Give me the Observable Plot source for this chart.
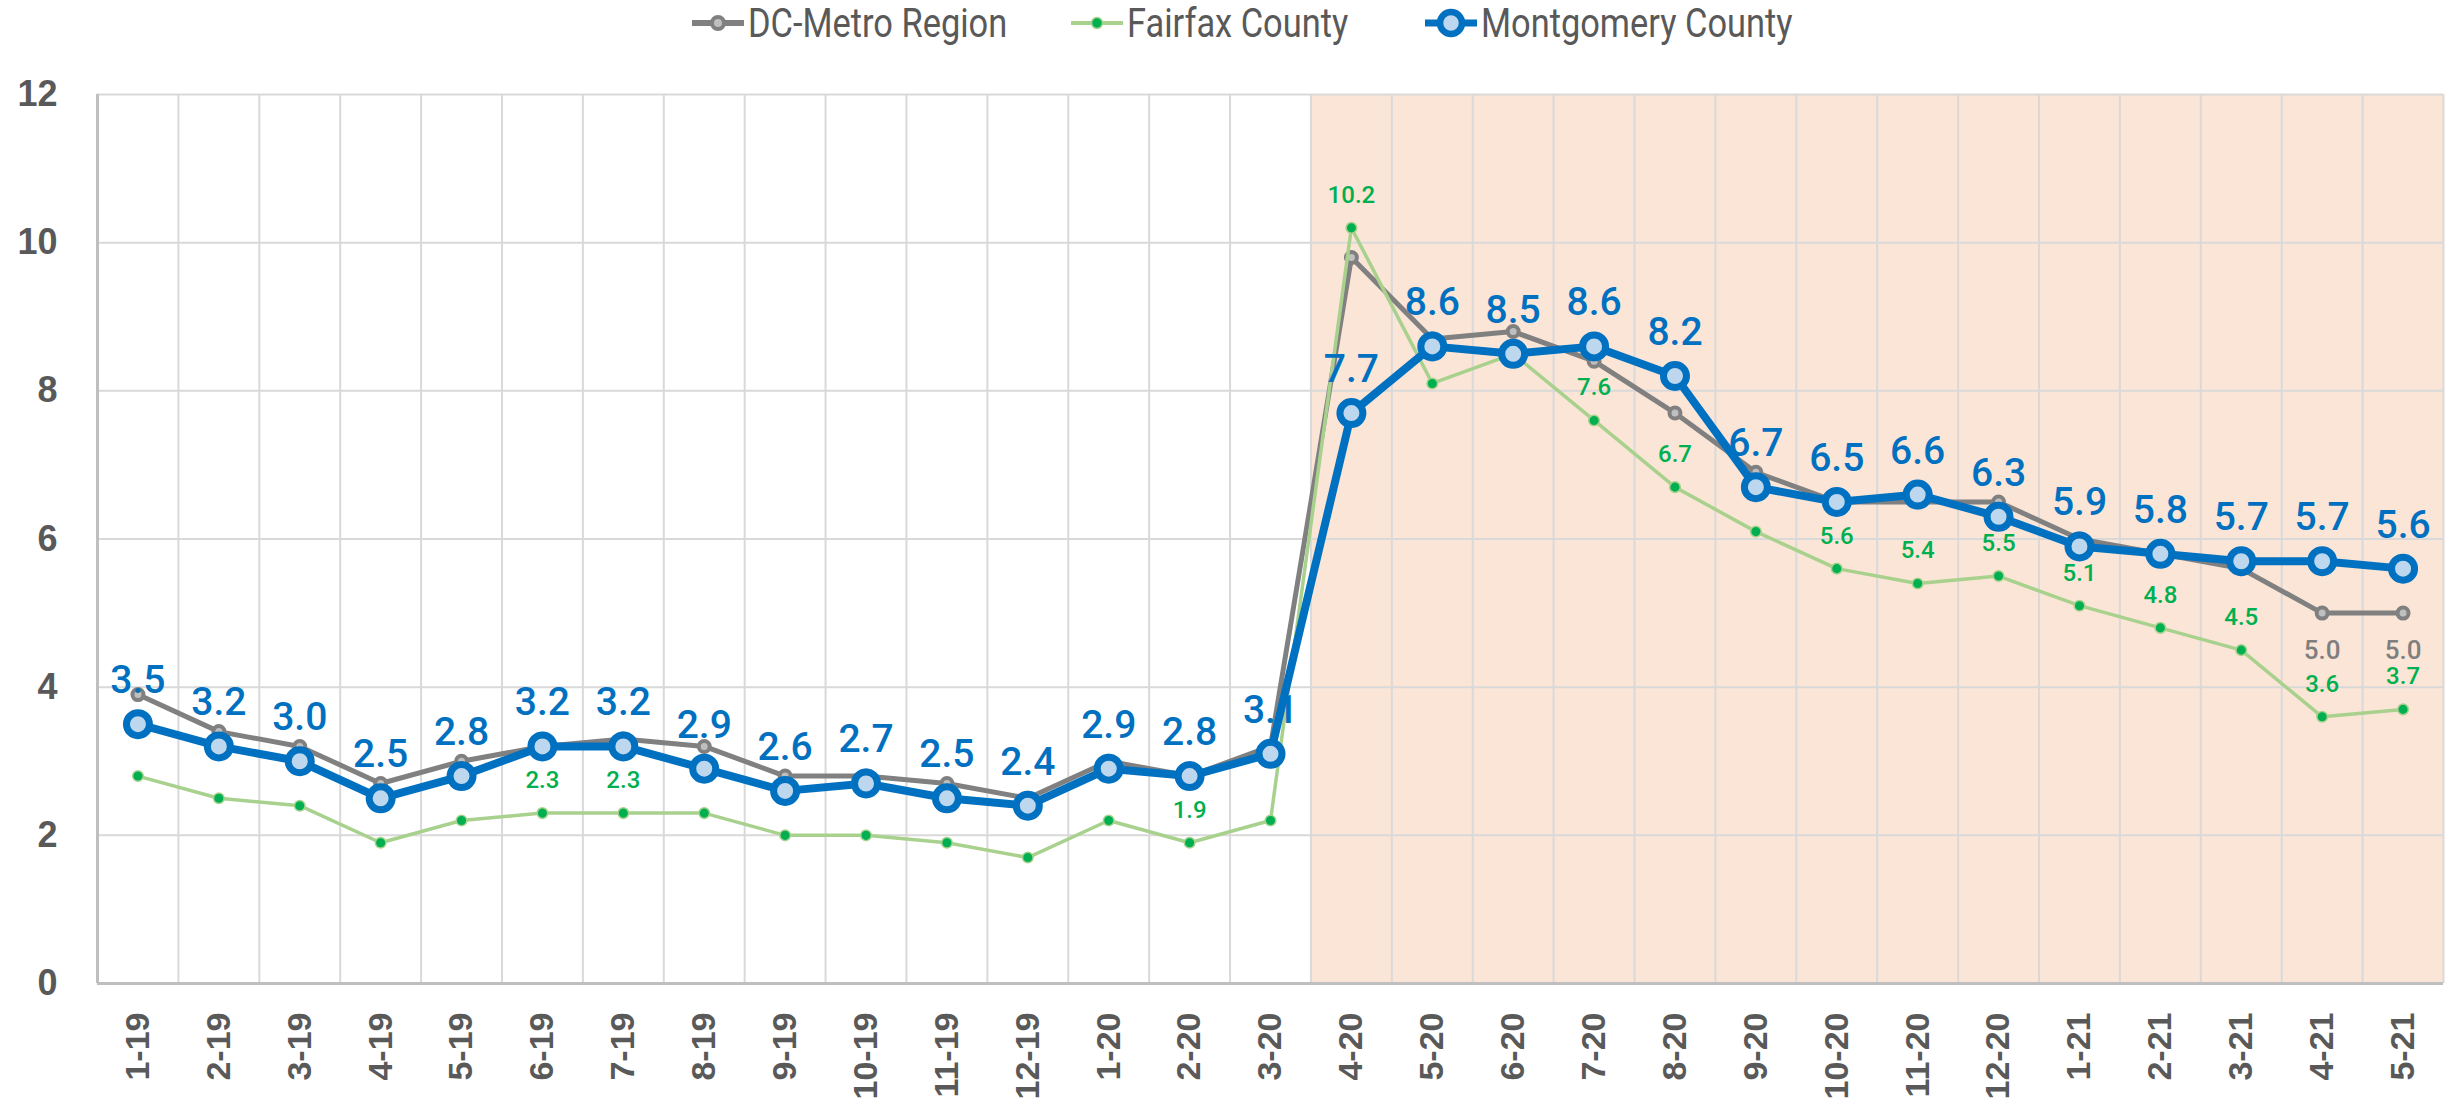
<!DOCTYPE html>
<html><head><meta charset="utf-8">
<script src="https://cdn.jsdelivr.net/npm/d3@7"></script>
<script src="https://cdn.jsdelivr.net/npm/@observablehq/plot@0.6"></script>
<style>
body{margin:0;background:#fff;width:2451px;height:1109px;overflow:hidden}
#legend{position:relative;width:2451px;height:46px}
.item{position:absolute;top:0;height:46px;display:flex;align-items:center}
.item span{font-family:Roboto,sans-serif;font-size:40px;color:#595959;margin-left:4px;white-space:nowrap;display:inline-block;transform:scaleX(0.86);transform-origin:left center}
#chart svg{display:block}
</style></head><body>
<div id="legend"></div>
<div id="chart"></div>
<script>
const categories = ["1-19","2-19","3-19","4-19","5-19","6-19","7-19","8-19","9-19","10-19","11-19","12-19",
  "1-20","2-20","3-20","4-20","5-20","6-20","7-20","8-20","9-20","10-20","11-20","12-20",
  "1-21","2-21","3-21","4-21","5-21"];
const dcMetro    = [3.9,3.4,3.2,2.7,3.0,3.2,3.3,3.2,2.8,2.8,2.7,2.5,3.0,2.8,3.2,9.8,8.7,8.8,8.4,7.7,6.9,6.5,6.5,6.5,6.0,5.8,5.6,5.0,5.0];
const fairfax    = [2.8,2.5,2.4,1.9,2.2,2.3,2.3,2.3,2.0,2.0,1.9,1.7,2.2,1.9,2.2,10.2,8.1,8.5,7.6,6.7,6.1,5.6,5.4,5.5,5.1,4.8,4.5,3.6,3.7];
const montgomery = [3.5,3.2,3.0,2.5,2.8,3.2,3.2,2.9,2.6,2.7,2.5,2.4,2.9,2.8,3.1,7.7,8.6,8.5,8.6,8.2,6.7,6.5,6.6,6.3,5.9,5.8,5.7,5.7,5.6];
const fairfaxLabeled = ["6-19","7-19","2-20","4-20","7-20","8-20","10-20","11-20","12-20","1-21","2-21","3-21","4-21","5-21"];
const dcMetroLabeled = ["4-21","5-21"];
const shadedFrom = "4-20";
const yTicks = [0,2,4,6,8,10,12];
const seriesNames = ["DC-Metro Region","Fairfax County","Montgomery County"];

const labelFont = 'Roboto, sans-serif';
const axisFont = '"Liberation Sans", Arial, sans-serif';
const n = categories.length;
const rows = categories.map((c,i)=>({i, c, dc: dcMetro[i], ff: fairfax[i], mc: montgomery[i]}));
const s = categories.indexOf(shadedFrom);
const yMax = d3.max(yTicks);

// Legend
const legendStyles = [
  {left: 692, line: "#808080", lw: 6, r: 6, fill: "#BFBFBF", stroke: "#808080", sw: 4},
  {left: 1071, line: "#A9D18E", lw: 4, r: 5.5, fill: "#00B050", stroke: "#A9D18E", sw: 1.5},
  {left: 1425, line: "#0070C0", lw: 7, r: 11, fill: "#BDD7EE", stroke: "#0070C0", sw: 6.5}
];
const legend = d3.select("#legend");
seriesNames.forEach((name, k) => {
  const st = legendStyles[k];
  const item = legend.append("div").attr("class","item").style("left", st.left + "px");
  const svg = item.append("svg").attr("width", 52).attr("height", 46);
  svg.append("line").attr("x1",1).attr("x2",51).attr("y1",23).attr("y2",23)
    .attr("stroke", st.line).attr("stroke-width", st.lw).attr("stroke-linecap","round");
  svg.append("circle").attr("cx",26).attr("cy",23).attr("r",st.r)
    .attr("fill", st.fill).attr("stroke", st.stroke).attr("stroke-width", st.sw);
  item.append("span").text(name);
});

const chart = Plot.plot({
  width: 2451, height: 1063,
  marginLeft: 97, marginRight: 8, marginTop: 48, marginBottom: 126,
  x: {type: "linear", domain: [-0.5, n - 0.5], axis: null},
  y: {domain: [0, yMax], axis: null},
  style: {background: "white", overflow: "visible"},
  marks: [
    Plot.rect([{x1: s - 0.5, x2: n - 0.5}], {x1: "x1", x2: "x2", y1: 0, y2: yMax, fill: "#FBE5D6"}),
    Plot.ruleY(yTicks.filter(t => t > 0), {stroke: "#D9D9D9", strokeWidth: 2}),
    Plot.ruleX(rows, {x: d => d.i + 0.5, y1: 0, y2: yMax, stroke: "#D9D9D9", strokeWidth: 2}),
    Plot.ruleY([0], {stroke: "#BFBFBF", strokeWidth: 3}),
    Plot.ruleX([-0.5], {y1: 0, y2: yMax, stroke: "#BFBFBF", strokeWidth: 3}),
    Plot.axisY(yTicks, {tickFormat: "d", tickSize: 0, tickPadding: 40, fontSize: 36, fontFamily: axisFont, fontWeight: "bold", fill: "#595959"}),
    Plot.axisX(rows.map(d => d.i), {tickFormat: i => categories[i], tickRotate: -90, tickSize: 0, tickPadding: 29,
      fontSize: 34, fontFamily: axisFont, fontWeight: "bold", fill: "#595959"}),
    // DC-Metro
    Plot.line(rows, {x: "i", y: "dc", stroke: "#808080", strokeWidth: 5}),
    Plot.dot(rows, {x: "i", y: "dc", r: 5.5, fill: "#BFBFBF", stroke: "#808080", strokeWidth: 4}),
    // Fairfax
    Plot.line(rows, {x: "i", y: "ff", stroke: "#A9D18E", strokeWidth: 3.5}),
    Plot.dot(rows, {x: "i", y: "ff", r: 5.3, fill: "#00B050", stroke: "#A9D18E", strokeWidth: 1.5}),
    // Montgomery
    Plot.line(rows, {x: "i", y: "mc", stroke: "#0070C0", strokeWidth: 8}),
    Plot.dot(rows, {x: "i", y: "mc", r: 11.5, fill: "#BDD7EE", stroke: "#0070C0", strokeWidth: 7}),
    // labels
    Plot.text(rows.filter(d => dcMetroLabeled.includes(d.c)), {x: "i", y: "dc", text: d => d.dc.toFixed(1),
      dy: 27, lineAnchor: "top", fill: "#7F7F7F", fontSize: 26, fontWeight: 500, fontFamily: labelFont}),
    Plot.text(rows.filter(d => fairfaxLabeled.includes(d.c)), {x: "i", y: "ff", text: d => d.ff.toFixed(1),
      dy: -25, lineAnchor: "bottom", fill: "#00B050", fontSize: 24, fontWeight: 500, fontFamily: labelFont}),
    Plot.text(rows, {x: "i", y: "mc", text: d => d.mc.toFixed(1),
      dy: -31, lineAnchor: "bottom", fill: "#0070C0", fontSize: 39, fontWeight: 500, fontFamily: labelFont})
  ]
});
document.getElementById("chart").appendChild(chart);
</script>
</body></html>
